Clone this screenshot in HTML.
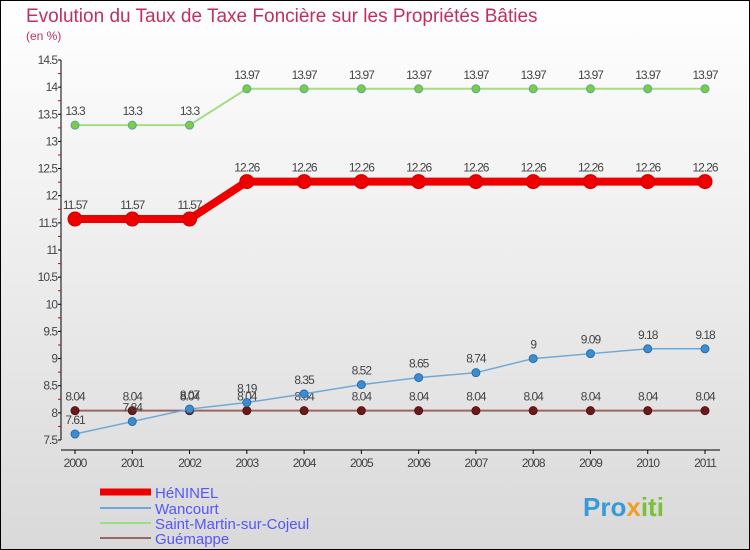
<!DOCTYPE html>
<html><head><meta charset="utf-8"><style>
body{margin:0}
#c{width:750px;height:550px;position:relative;box-sizing:border-box;border:1px solid #000;background:linear-gradient(#fff,#d9d9d9);font-family:"Liberation Sans",sans-serif;overflow:hidden}
</style></head><body>
<div id="c">
<svg id="s" width="750" height="550" style="position:absolute;left:-1px;top:-1px">
<text x="26" y="22" font-size="19" fill="#c0305a">Evolution du Taux de Taxe Foncière sur les Propriétés Bâties</text>
<text x="26" y="40" font-size="12" fill="#c0305a">(en %)</text>
<g id="axes"></g><g id="series"></g>
<g>
<line x1="100" y1="492" x2="151" y2="492" stroke="#e00" stroke-width="7"/>
<text x="155" y="498" font-size="15" fill="#55f">HéNINEL</text>
<line x1="100" y1="508" x2="151" y2="508" stroke="#6fa8d8" stroke-width="2"/>
<text x="155" y="514" font-size="15" fill="#55f">Wancourt</text>
<line x1="100" y1="523" x2="151" y2="523" stroke="#9d8" stroke-width="2"/>
<text x="155" y="529" font-size="15" fill="#55f">Saint-Martin-sur-Cojeul</text>
<line x1="100" y1="538" x2="151" y2="538" stroke="#966" stroke-width="2"/>
<text x="155" y="544" font-size="15" fill="#55f">Guémappe</text>
</g>
<text x="583" y="516" font-size="26" font-weight="bold" fill="#3a9ad9">Pro<tspan fill="#f0a020">x</tspan><tspan fill="#7cbf3a">iti</tspan></text>
</svg>
</div>
<script>
const years=[2000,2001,2002,2003,2004,2005,2006,2007,2008,2009,2010,2011];
const heninel=[11.57,11.57,11.57,12.26,12.26,12.26,12.26,12.26,12.26,12.26,12.26,12.26];
const wancourt=[7.61,7.84,8.07,8.19,8.35,8.52,8.65,8.74,9,9.09,9.18,9.18];
const stMartin=[13.3,13.3,13.3,13.97,13.97,13.97,13.97,13.97,13.97,13.97,13.97,13.97];
const guemappe=[8.04,8.04,8.04,8.04,8.04,8.04,8.04,8.04,8.04,8.04,8.04,8.04];
const yTicks=[7.5,8,8.5,9,9.5,10,10.5,11,11.5,12,12.5,13,13.5,14,14.5];
const NS="http://www.w3.org/2000/svg";
const X=i=>75+i*(630/11);
const Y=v=>60+(14.5-v)*(380/7);
function mk(t,a,p){const e=document.createElementNS(NS,t);for(const k in a)e.setAttribute(k,a[k]);p.appendChild(e);return e;}
const ax=document.getElementById('axes'),sg=document.getElementById('series');
let l=mk('line',{x1:61,y1:Y(14.5),x2:61,y2:Y(7.5),stroke:'#000'},ax);


l=mk('line',{x1:61,y1:450,x2:720,y2:450,stroke:'#000'},ax);


yTicks.forEach((v,i)=>{
 mk('line',{x1:58,y1:Y(v),x2:61,y2:Y(v),stroke:'#000'},ax);
 if(i<yTicks.length-1)mk('line',{x1:58,y1:Y(v+0.25),x2:61,y2:Y(v+0.25),stroke:'#d00'},ax);
 const t=mk('text',{x:57,y:Y(v)+4,'font-size':12,fill:'#444','text-anchor':'end','letter-spacing':'-1'},ax);
 t.textContent=String(v);
 
 
});
years.forEach((y,i)=>{
 mk('line',{x1:X(i),y1:450,x2:X(i),y2:454,stroke:'#000'},ax);
 const t=mk('text',{x:X(i),y:467,'font-size':12,fill:'#444','text-anchor':'middle','letter-spacing':'-1'},ax);
 t.textContent=String(y);
 
 
});
function series(vals,name,color,w,dot,dotStroke,r){
 const g=mk('g',{},sg);
 
 
 const p=mk('polyline',{points:vals.map((v,i)=>X(i)+','+Y(v)).join(' '),fill:'none',stroke:color,'stroke-width':w},g);
 
 
 vals.forEach((v,i)=>{
  const c=mk('circle',{cx:X(i),cy:Y(v),r:r,fill:dot,stroke:dotStroke,'stroke-width':1},g);
  
  
  const t=mk('text',{x:X(i),y:Y(v)-10,'font-size':12,fill:'#444','text-anchor':'middle','letter-spacing':'-1'},g);
  t.textContent=String(v);
  
  
 });
}
series(stMartin,'saint-martin','#a6dc88',2,'#7ccc44','#5a9','4');
series(guemappe,'guemappe','#966',2,'#6b1a1a','#511','4');
series(wancourt,'wancourt','#6fa8d8',1.5,'#3c8dd0','#2a6fa8','4');
series(heninel,'heninel','#e00',8,'#e00','#c00','7');
</script>
</body></html>
